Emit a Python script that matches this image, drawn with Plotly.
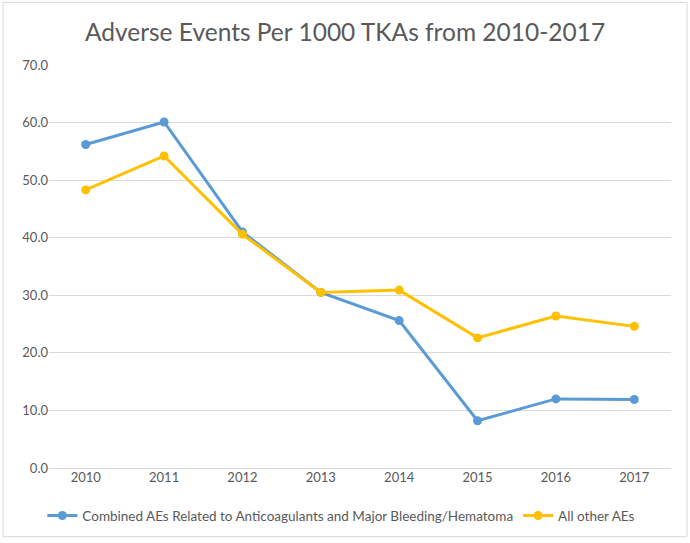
import plotly.graph_objects as go

years = ["2010", "2011", "2012", "2013", "2014", "2015", "2016", "2017"]
combined = [56.2, 60.1, 41.0, 30.5, 25.6, 8.2, 12.0, 11.9]
other = [48.3, 54.2, 40.6, 30.5, 30.9, 22.6, 26.4, 24.6]
y_ticks = [0, 10, 20, 30, 40, 50, 60, 70]

W, H = 690, 543
ml, mr, mt, mb = 49, 19, 65, 73

fig = go.Figure()
fig.add_trace(go.Scatter(
    x=years, y=combined, mode="lines+markers",
    name="Combined AEs Related to Anticoagulants and Major Bleeding/Hematoma",
    line=dict(color="#5B9BD5", width=3), marker=dict(size=9, color="#5B9BD5")))
fig.add_trace(go.Scatter(
    x=years, y=other, mode="lines+markers", name="All other AEs",
    line=dict(color="#FFC000", width=3), marker=dict(size=9, color="#FFC000")))

pw = W - ml - mr
ph = H - mt - mb
fig.add_shape(type="rect", xref="paper", yref="paper",
              x0=(-ml + 3) / pw, x1=1 + (mr - 3) / pw,
              y0=(-mb + 4) / ph, y1=1 + (mt - 2) / ph,
              line=dict(color="#D9D9D9", width=1), layer="below")

fig.update_layout(
    width=W, height=H,
    margin=dict(l=ml, r=mr, t=mt, b=mb),
    paper_bgcolor="white", plot_bgcolor="white",
    font=dict(family="Lato, Open Sans, sans-serif", color="#595959", size=13),
    title=dict(text="Adverse Events Per 1000 TKAs from 2010-2017",
               x=0.5, xref="container", xanchor="center",
               y=1 - 32 / H, yanchor="middle",
               font=dict(size=24.5, color="#595959", family="Lato, Open Sans, sans-serif")),
    xaxis=dict(type="category", showgrid=False, showline=False, ticks="",
               tickfont=dict(size=13, color="#595959")),
    yaxis=dict(range=[0, 70], tickvals=y_ticks, tickformat=".1f",
               showgrid=True, gridcolor="#D9D9D9", gridwidth=1,
               zeroline=True, zerolinecolor="#D9D9D9", zerolinewidth=1,
               showline=False, ticks="", tickfont=dict(size=13, color="#595959")),
    legend=dict(orientation="h", x=0.47, xanchor="center", y=-(518 - 470) / ph,
                yanchor="middle", font=dict(size=13.5, color="#595959")),
    showlegend=True,
)

fig.write_html("out.html", config={"displayModeBar": False},
               post_script="document.body.style.margin='0';")
